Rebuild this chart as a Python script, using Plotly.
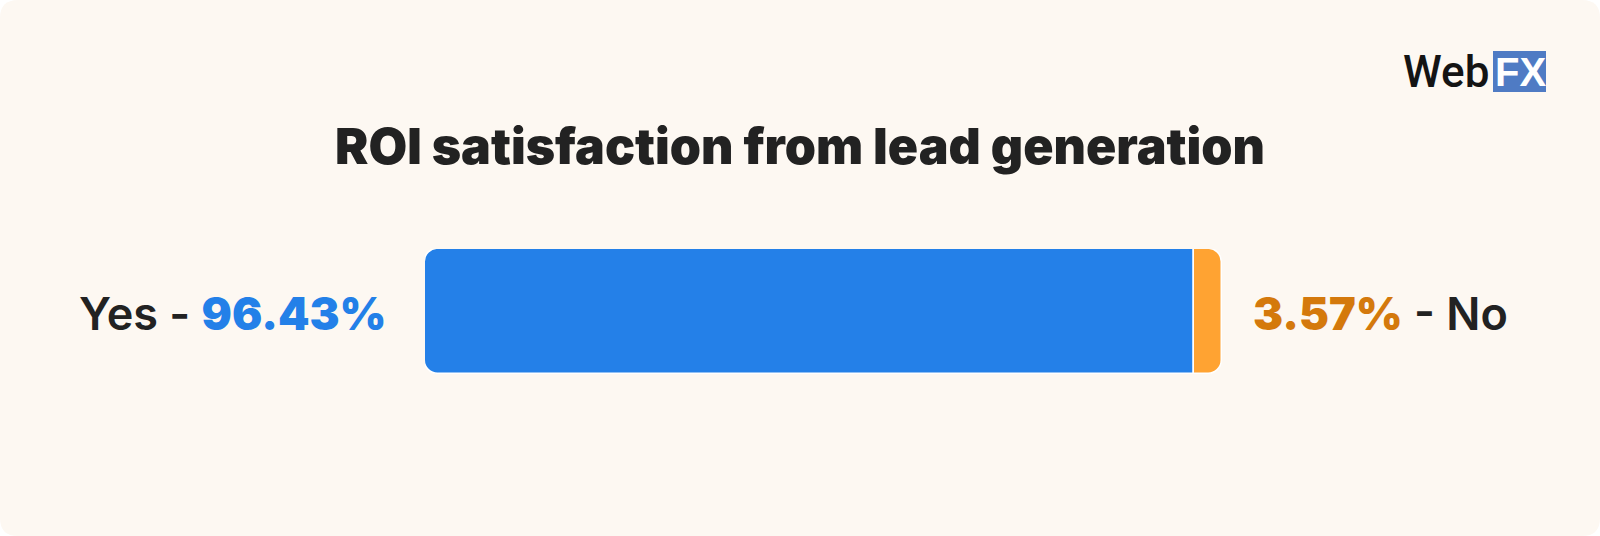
import plotly.graph_objects as go

# ---- data ----
categories = ["ROI satisfaction"]
answers = ["Yes", "No"]
shares = [96.43, 3.57]
title_text = "ROI satisfaction from lead generation"

# ---- style ----
bar_colors = ["#2480E8", "#FFA332"]
label_colors = ["#2380E8", "#D4790C"]
ink = "#222222"
card = "#FDF8F2"

W, H = 1600, 536
L, R, T, B = 425, 378, 249, 162
pw, ph = W - L - R, H - T - B


def px(x):
    return (x - L) / pw


def py(y):
    return (H - B - y) / ph


fig = go.Figure()
# diverging layout around the Yes/No split: Yes extends left, No extends right
fig.add_trace(go.Bar(
    y=categories, x=[-shares[0]], orientation="h",
    marker=dict(color=bar_colors[0], line=dict(color="white", width=1.5), cornerradius=14),
    hoverinfo="skip", name=answers[0],
))
fig.add_trace(go.Bar(
    y=categories, x=[shares[1]], orientation="h",
    marker=dict(color=bar_colors[1], line=dict(color="white", width=1.5), cornerradius=14),
    hoverinfo="skip", name=answers[1],
))

r = 18
card_path = (
    f"M {px(r)},{py(0)} L {px(W - r)},{py(0)} Q {px(W)},{py(0)} {px(W)},{py(r)} "
    f"L {px(W)},{py(H - r)} Q {px(W)},{py(H)} {px(W - r)},{py(H)} "
    f"L {px(r)},{py(H)} Q {px(0)},{py(H)} {px(0)},{py(H - r)} "
    f"L {px(0)},{py(r)} Q {px(0)},{py(0)} {px(r)},{py(0)} Z"
)

shapes = [
    dict(type="path", xref="paper", yref="paper", path=card_path,
         fillcolor=card, line=dict(width=0), layer="below"),
    dict(type="rect", xref="paper", yref="paper",
         x0=px(1493), x1=px(1546), y0=py(92), y1=py(51),
         fillcolor="#4F7BC4", line=dict(width=0), layer="above"),
]

font_main = "Inter, 'Noto Sans', sans-serif"
annotations = [
    dict(xref="paper", yref="paper", x=0, y=0.5, xanchor="right", yanchor="middle",
         xshift=-36, yshift=-2, showarrow=False,
         text=f"{answers[0]} - <span style='font-weight:900;color:{label_colors[0]}'>{shares[0]:.2f}%</span>",
         font=dict(family=font_main, size=45, color=ink, weight=600)),
    dict(xref="paper", yref="paper", x=1, y=0.5, xanchor="left", yanchor="middle",
         xshift=29, yshift=-2, showarrow=False,
         text=f"<span style='font-weight:900;color:{label_colors[1]}'>{shares[1]:.2f}%</span> - {answers[1]}",
         font=dict(family=font_main, size=45, color=ink, weight=600)),
    dict(xref="paper", yref="paper", x=px(1491), y=py(72), xanchor="right", yanchor="middle",
         showarrow=False, text="Web",
         font=dict(family="Roboto, 'Liberation Sans', sans-serif", size=44, color="#141414", weight=500)),
    dict(xref="paper", yref="paper", x=px(1520), y=py(72), xanchor="center", yanchor="middle",
         showarrow=False, text="<b>FX</b>",
         font=dict(family="'Liberation Sans', Arial, sans-serif", size=40, color="white")),
]

fig.update_layout(
    width=W, height=H,
    margin=dict(l=L, r=R, t=T, b=B, pad=0),
    barmode="relative", bargap=0,
    xaxis=dict(range=[-shares[0], shares[1]], visible=False, fixedrange=True),
    yaxis=dict(range=[-0.5, 0.5], visible=False, fixedrange=True),
    paper_bgcolor="white", plot_bgcolor="rgba(0,0,0,0)",
    showlegend=False,
    title=dict(text=title_text, x=0.5, xref="container", xanchor="center",
               y=1 - 146 / H, yref="container", yanchor="middle",
               font=dict(family=font_main, size=50, color=ink, weight=900)),
    shapes=shapes, annotations=annotations,
)

fig.write_html("out.html", config={"displayModeBar": False},
               post_script="document.body.style.margin='0';")
